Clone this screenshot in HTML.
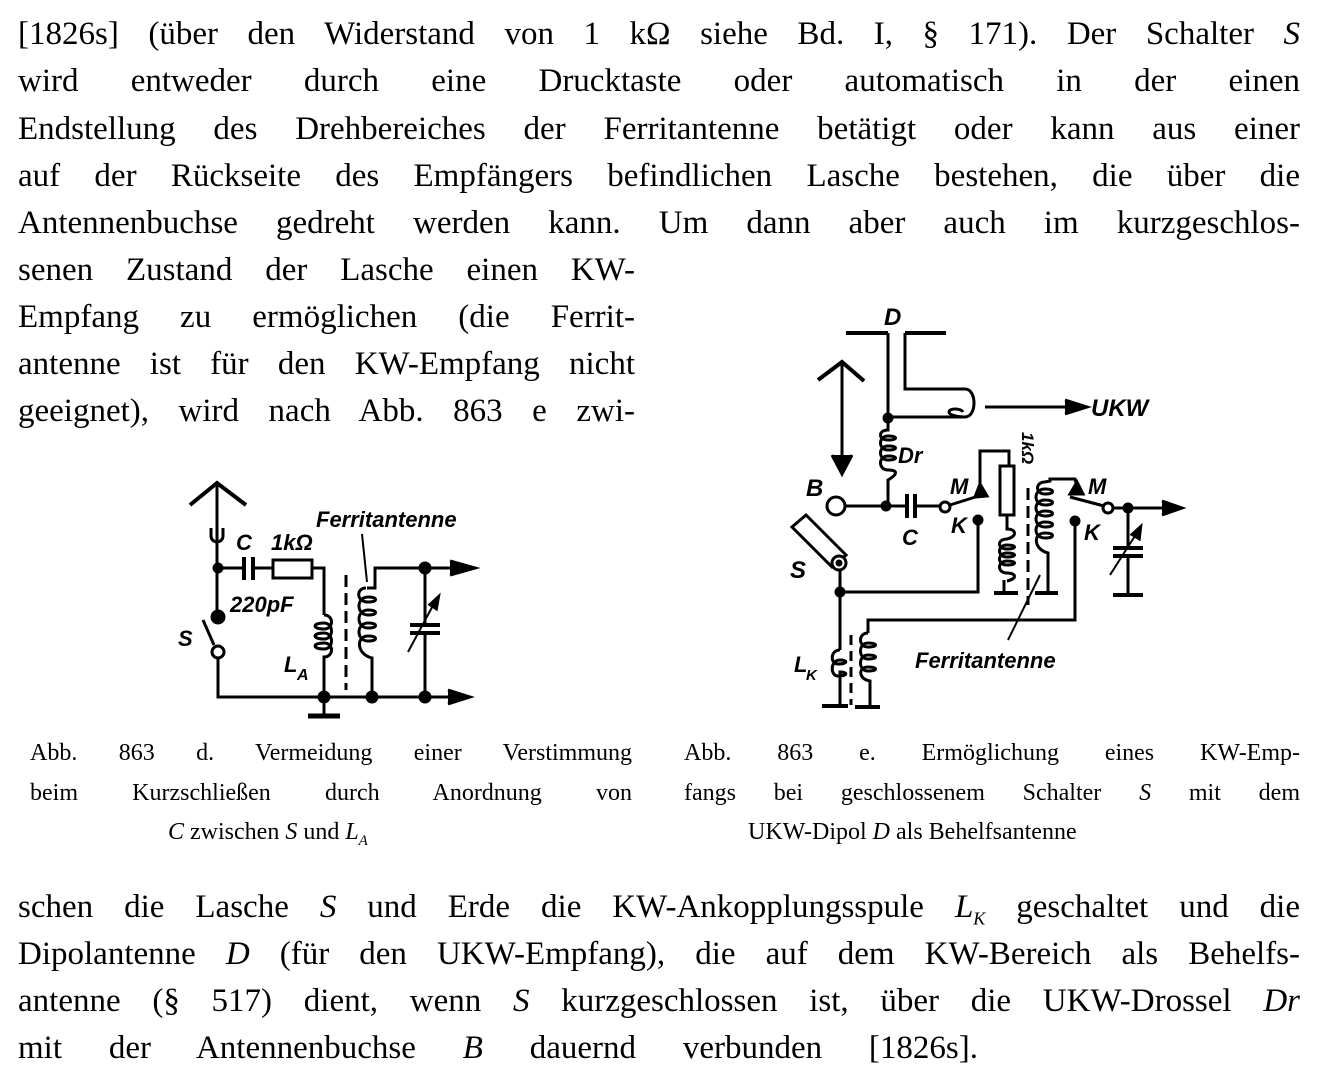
<!DOCTYPE html>
<html><head><meta charset="utf-8"><style>
body{margin:0;background:#fff;}
#p{position:relative;width:1321px;height:1082px;overflow:hidden;background:#fff;color:#000;font-family:"Liberation Serif",serif;}
.l{position:absolute;left:18px;width:1282px;font-size:33px;line-height:36px;white-space:nowrap;text-align:justify;text-align-last:justify;}
.s{width:617px;}
.c{position:absolute;font-size:24px;line-height:28px;white-space:nowrap;text-align:justify;text-align-last:justify;}
svg{position:absolute;left:0;top:0;}
svg text{font-family:"Liberation Sans",sans-serif;font-style:italic;font-weight:bold;}
</style></head><body><div id="p">
<div class="l" style="top:16px">[1826s] (über den Widerstand von 1 kΩ siehe Bd. I, § 171). Der Schalter <i>S</i></div>
<div class="l" style="top:63px">wird entweder durch eine Drucktaste oder automatisch in der einen</div>
<div class="l" style="top:111px">Endstellung des Drehbereiches der Ferritantenne betätigt oder kann aus einer</div>
<div class="l" style="top:158px">auf der Rückseite des Empfängers befindlichen Lasche bestehen, die über die</div>
<div class="l" style="top:205px">Antennenbuchse gedreht werden kann. Um dann aber auch im kurzgeschlos-</div>
<div class="l s" style="top:252px">senen Zustand der Lasche einen KW-</div>
<div class="l s" style="top:299px">Empfang zu ermöglichen (die Ferrit-</div>
<div class="l s" style="top:346px">antenne ist für den KW-Empfang nicht</div>
<div class="l s" style="top:393px">geeignet), wird nach Abb. 863 e zwi-</div>

<div class="c" style="left:30px;width:602px;top:739px">Abb. 863 d. Vermeidung einer Verstimmung</div>
<div class="c" style="left:30px;width:602px;top:779px">beim Kurzschließen durch Anordnung von</div>
<div class="c" style="left:168px;top:818px;text-align:left;text-align-last:auto"><i>C</i> zwischen <i>S</i> und <i>L<sub style="font-size:15px">A</sub></i></div>
<div class="c" style="left:684px;width:616px;top:739px">Abb. 863 e. Ermöglichung eines KW-Emp-</div>
<div class="c" style="left:684px;width:616px;top:779px">fangs bei geschlossenem Schalter <i>S</i> mit dem</div>
<div class="c" style="left:748px;top:818px;text-align:left;text-align-last:auto">UKW-Dipol <i>D</i> als Behelfsantenne</div>

<div class="l" style="top:889px">schen die Lasche <i>S</i> und Erde die KW-Ankopplungsspule <i>L<sub style="font-size:18px">K</sub></i> geschaltet und die</div>
<div class="l" style="top:936px">Dipolantenne <i>D</i> (für den UKW-Empfang), die auf dem KW-Bereich als Behelfs-</div>
<div class="l" style="top:983px">antenne (§ 517) dient, wenn <i>S</i> kurzgeschlossen ist, über die UKW-Drossel <i>Dr</i></div>
<div class="l" style="top:1030px;width:960px">mit der Antennenbuchse <i>B</i> dauernd verbunden [1826s].</div>

<svg width="1321" height="1082" viewBox="0 0 1321 1082" fill="none" stroke="#000" stroke-width="3">
<polyline points="190,505 217,483 246,505" stroke-width="4"/>
<line x1="217" y1="483" x2="217" y2="617"/>
<path d="M211,528 v8 a6,6 0 0 0 12,0 v-8"/>
<circle cx="218" cy="568" r="4" fill="#000"/>
<line x1="218" y1="568" x2="243" y2="568"/>
<line x1="244" y1="557" x2="244" y2="580" stroke-width="4"/>
<line x1="253" y1="557" x2="253" y2="580" stroke-width="4"/>
<line x1="253" y1="568" x2="273" y2="568"/>
<rect x="273" y="560" width="39" height="18"/>
<polyline points="312,568 324,568 324,615"/>
<path d="M324,615 c10,0 10,14 0,14 c-12,0 -12,-6 0,-6 c10,0 10,16 0,16 c-12,0 -12,-6 0,-6 c10,0 10,16 0,16 c-12,0 -12,-6 0,-6 c10,0 10,14 0,14 V697"/>
<circle cx="218" cy="617" r="6" fill="#000"/>
<line x1="203" y1="620" x2="214" y2="645"/>
<circle cx="218" cy="652" r="6" fill="#fff"/>
<polyline points="218,658 218,697 462,697"/>
<polyline points="448,690 470,697 448,704" fill="#000"/>
<line x1="324" y1="697" x2="324" y2="715"/>
<line x1="308" y1="716" x2="340" y2="716" stroke-width="5"/>
<circle cx="324" cy="697" r="5" fill="#000"/>
<circle cx="372" cy="697" r="5" fill="#000"/>
<circle cx="425" cy="697" r="5" fill="#000"/>
<line x1="346" y1="575" x2="346" y2="690" stroke-dasharray="12,6"/>
<polyline points="367,588 375,588 375,568 470,568"/>
<polyline points="450,561 475,568 450,575" fill="#000"/>
<path d="M366,588 c-10,0 -10,14 2,14 c10,0 10,-5 0,-5 c-12,0 -12,18 0,18 c10,0 10,-5 0,-5 c-12,0 -12,18 0,18 c10,0 10,-5 0,-5 c-12,0 -12,18 0,18 c10,0 10,-5 0,-5 c-12,0 -12,18 4,22 V697"/>
<line x1="362" y1="534" x2="367" y2="582" stroke-width="2"/>
<circle cx="425" cy="568" r="5" fill="#000"/>
<line x1="425" y1="568" x2="425" y2="624"/>
<line x1="410" y1="625" x2="440" y2="625" stroke-width="4"/>
<line x1="410" y1="633" x2="440" y2="633" stroke-width="4"/>
<line x1="425" y1="633" x2="425" y2="697"/>
<line x1="408" y1="652" x2="437" y2="598" stroke-width="2"/>
<polyline points="428,605 440,594 437,611" fill="#000" stroke-width="1"/>
<g fill="#000" stroke="none">
<text x="236" y="550" font-size="22">C</text>
<text x="271" y="550" font-size="22">1kΩ</text>
<text x="230" y="612" font-size="22">220pF</text>
<text x="178" y="646" font-size="22">S</text>
<text x="284" y="672" font-size="22">L</text><text x="297" y="680" font-size="16">A</text>
<text x="316" y="527" font-size="22">Ferritantenne</text>
</g>
<line x1="846" y1="333" x2="888" y2="333" stroke-width="4"/>
<line x1="905" y1="333" x2="946" y2="333" stroke-width="4"/>
<line x1="888" y1="333" x2="888" y2="418"/>
<polyline points="905,333 905,389 965,389"/>
<path d="M965,389 c12,0 12,28 0,28 c-8,0 -16,-2 -16,-5 c0,-4 12,-4 14,0 M963,417 H888"/>
<line x1="985" y1="407" x2="1075" y2="407"/>
<polyline points="1065,400 1087,407 1065,414" fill="#000"/>
<polyline points="818,380 842,362 864,381" stroke-width="4"/>
<line x1="842" y1="362" x2="842" y2="470"/>
<polyline points="832,455 842,474 852,455" fill="#000"/>
<circle cx="888" cy="418" r="4" fill="#000"/>
<path d="M888,418 v12 c-10,0 -10,10 0,10 c10,0 10,-4 0,-4 c-10,0 -10,14 0,14 c10,0 10,-4 0,-4 c-10,0 -10,14 0,14 c10,0 10,-4 0,-4 c-10,0 -10,14 0,14 c10,0 10,4 0,10 V505"/>
<circle cx="836" cy="506" r="9"/>
<line x1="845" y1="506" x2="907" y2="506"/>
<circle cx="886" cy="506" r="4" fill="#000"/>
<line x1="907" y1="494" x2="907" y2="518" stroke-width="4"/>
<line x1="915" y1="494" x2="915" y2="518" stroke-width="4"/>
<line x1="915" y1="506" x2="940" y2="506"/>
<circle cx="945" cy="507" r="5" fill="#fff"/>
<line x1="950" y1="505" x2="985" y2="494"/>
<polygon points="975,497 980,484 987,496" fill="#000"/>
<polyline points="980,488 980,451 1009,451 1009,466"/>
<rect x="1000" y="466" width="14" height="49"/>
<path d="M1007,515 v14 c10,0 10,8 0,10 c-10,0 -10,10 0,10 c10,0 10,-4 0,-4 M1007,545 c-10,0 -10,12 0,12 c10,0 10,-4 0,-4 c-10,0 -10,12 0,12 c10,0 10,-4 0,-4 c-10,0 -10,12 0,12 c10,0 10,6 0,8 M1004,580 V592"/>
<line x1="994" y1="593" x2="1018" y2="593" stroke-width="4"/>
<line x1="1028" y1="488" x2="1028" y2="605" stroke-dasharray="12,6"/>
<path d="M1045,482 c-10,0 -10,12 0,12 c10,0 10,-5 0,-5 c-12,0 -12,16 0,16 c10,0 10,-5 0,-5 c-12,0 -12,16 0,16 c10,0 10,-5 0,-5 c-12,0 -12,16 0,16 c10,0 10,-5 0,-5 c-12,0 -12,16 0,16 c10,0 10,-5 0,-5 c-12,0 -12,16 3,20 V593"/>
<line x1="1035" y1="593" x2="1058" y2="593" stroke-width="4"/>
<polyline points="1045,482 1050,481 1050,479 1075,479 1078,490"/>
<polygon points="1070,494 1077,482 1083,494" fill="#000"/>
<line x1="1070" y1="497" x2="1104" y2="506"/>
<circle cx="1108" cy="508" r="5" fill="#fff"/>
<line x1="1113" y1="508" x2="1172" y2="508"/>
<polyline points="1162,501 1182,508 1162,515" fill="#000"/>
<circle cx="1128" cy="508" r="4" fill="#000"/>
<line x1="1128" y1="508" x2="1128" y2="547"/>
<line x1="1113" y1="548" x2="1143" y2="548" stroke-width="4"/>
<line x1="1113" y1="556" x2="1143" y2="556" stroke-width="4"/>
<line x1="1128" y1="556" x2="1128" y2="595"/>
<line x1="1113" y1="595" x2="1143" y2="595" stroke-width="4"/>
<line x1="1110" y1="575" x2="1140" y2="528" stroke-width="2"/>
<polyline points="1130,535 1142,524 1140,541" fill="#000" stroke-width="1"/>
<circle cx="978" cy="520" r="4" fill="#000"/>
<circle cx="1075" cy="521" r="4" fill="#000"/>
<polyline points="978,520 978,592 840,592"/>
<polyline points="1075,521 1075,620 868,620 868,633"/>
<polygon points="792,527 806,515 846,555 832,567" fill="#fff"/>
<circle cx="839" cy="563" r="7" fill="#fff"/>
<circle cx="839" cy="563" r="2" fill="#000"/>
<line x1="840" y1="570" x2="840" y2="650"/>
<circle cx="840" cy="592" r="4" fill="#000"/>
<path d="M840,650 c-10,0 -10,14 -2,14 c10,0 10,-4 2,-4 c-10,0 -10,16 -2,16 c10,0 10,-4 2,-4 V705"/>
<line x1="822" y1="706" x2="848" y2="706" stroke-width="4"/>
<line x1="851" y1="635" x2="851" y2="705" stroke-dasharray="10,6"/>
<path d="M868,633 c-10,0 -10,14 0,14 c10,0 10,-4 0,-4 c-10,0 -10,16 0,16 c10,0 10,-4 0,-4 c-10,0 -10,16 0,16 c10,0 10,-4 0,-4 c-10,0 -10,12 2,14 V707"/>
<line x1="855" y1="707" x2="880" y2="707" stroke-width="4"/>
<line x1="1008" y1="640" x2="1040" y2="575" stroke-width="2"/>
<g fill="#000" stroke="none">
<text x="884" y="325" font-size="24">D</text>
<text x="1091" y="416" font-size="24">UKW</text>
<text x="898" y="463" font-size="22">Dr</text>
<text x="806" y="496" font-size="24">B</text>
<text x="902" y="545" font-size="22">C</text>
<text x="950" y="494" font-size="22">M</text>
<text x="951" y="533" font-size="22">K</text>
<text x="1088" y="494" font-size="22">M</text>
<text x="1084" y="540" font-size="22">K</text>
<text x="790" y="578" font-size="24">S</text>
<text x="794" y="672" font-size="22">L</text><text x="806" y="680" font-size="15">K</text>
<text x="915" y="668" font-size="22">Ferritantenne</text>
<text transform="translate(1022,432) rotate(90)" font-size="17">1kΩ</text>
</g>
</svg>
</div></body></html>
